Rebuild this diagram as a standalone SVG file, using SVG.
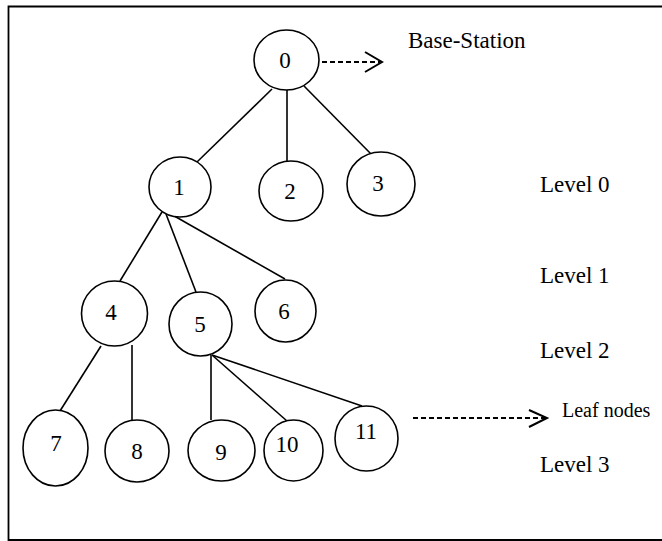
<svg xmlns="http://www.w3.org/2000/svg" width="662" height="541" viewBox="0 0 662 541">
  <style>
    .node ellipse { fill: #ffffff; stroke: #000000; stroke-width: 1.6; }
    .node text { font-family: 'Liberation Serif', Tinos, 'DejaVu Serif', serif; font-size: 23px; fill: #000000; text-anchor: middle; }
    .edge { stroke: #000000; stroke-width: 1.6; fill: none; }
    .dash { stroke: #000000; stroke-width: 2; stroke-dasharray: 5 3; fill: none; }
    .head { stroke: #000000; stroke-width: 2; fill: none; }
    .label { font-family: 'Liberation Serif', Tinos, 'DejaVu Serif', serif; font-size: 23px; fill: #000000; }
  </style>

  <rect x="0" y="0" width="662" height="541" fill="#ffffff"/>
  <!-- outer frame (right side runs off the page) -->
  <path d="M 670 6.5 H 8.5 V 540 H 670" fill="none" stroke="#000000" stroke-width="1.8"/>

  <g id="connectors">
    <line class="edge" x1="272" y1="89" x2="197" y2="162"/>
    <line class="edge" x1="287" y1="90" x2="287" y2="161"/>
    <line class="edge" x1="304" y1="86" x2="373" y2="156"/>
    <line class="edge" x1="162" y1="212" x2="120" y2="281"/>
    <line class="edge" x1="166" y1="214" x2="196" y2="292"/>
    <line class="edge" x1="169" y1="213" x2="285" y2="279"/>
    <line class="edge" x1="101" y1="346" x2="60" y2="411"/>
    <line class="edge" x1="132" y1="345" x2="132" y2="420"/>
    <line class="edge" x1="211" y1="355" x2="211" y2="420"/>
    <line class="edge" x1="212" y1="355" x2="287" y2="421"/>
    <line class="edge" x1="212" y1="355" x2="362" y2="406"/>
    <!-- base-station pointer -->
    <line class="dash" x1="322" y1="62" x2="380" y2="62"/>
    <polyline class="head" points="365,52 382,62 365,72"/>
    <!-- leaf nodes pointer -->
    <line class="dash" x1="413" y1="418" x2="545" y2="418"/>
    <polyline class="head" points="529,410 547,418 529,427"/>
  </g>

  <g id="n0" class="node"><ellipse cx="286.5" cy="60" rx="32.5" ry="30"/><text x="285" y="68">0</text></g>
  <g id="n1" class="node"><ellipse cx="180" cy="187" rx="31" ry="30"/><text x="179" y="195">1</text></g>
  <g id="n2" class="node"><ellipse cx="291" cy="191" rx="32" ry="30"/><text x="290" y="199">2</text></g>
  <g id="n3" class="node"><ellipse cx="381" cy="184" rx="34" ry="32"/><text x="378" y="191">3</text></g>
  <g id="n4" class="node"><ellipse cx="114.5" cy="313.5" rx="33" ry="32.5"/><text x="111" y="320">4</text></g>
  <g id="n5" class="node"><ellipse cx="200.5" cy="324" rx="31.5" ry="32"/><text x="200" y="332">5</text></g>
  <g id="n6" class="node"><ellipse cx="285.5" cy="311" rx="30.5" ry="31"/><text x="284" y="319">6</text></g>
  <g id="n7" class="node"><ellipse cx="55.5" cy="448" rx="32.5" ry="38"/><text x="56" y="451">7</text></g>
  <g id="n8" class="node"><ellipse cx="137" cy="451" rx="32" ry="31"/><text x="137" y="459">8</text></g>
  <g id="n9" class="node"><ellipse cx="221.5" cy="450.5" rx="33.5" ry="30.5"/><text x="221" y="460">9</text></g>
  <g id="n10" class="node"><ellipse cx="293.5" cy="450.5" rx="29.5" ry="30.5"/><text x="287" y="452">10</text></g>
  <g id="n11" class="node"><ellipse cx="366.5" cy="438.5" rx="31.5" ry="32.5"/><text x="366" y="439">11</text></g>

  <g id="labels">
    <text class="label" x="408" y="48">Base-Station</text>
    <text class="label" x="562" y="417" style="font-size:20px">Leaf nodes</text>
    <text class="label" x="540" y="192">Level 0</text>
    <text class="label" x="540" y="283">Level 1</text>
    <text class="label" x="540" y="358">Level 2</text>
    <text class="label" x="540" y="472">Level 3</text>
  </g>
</svg>
